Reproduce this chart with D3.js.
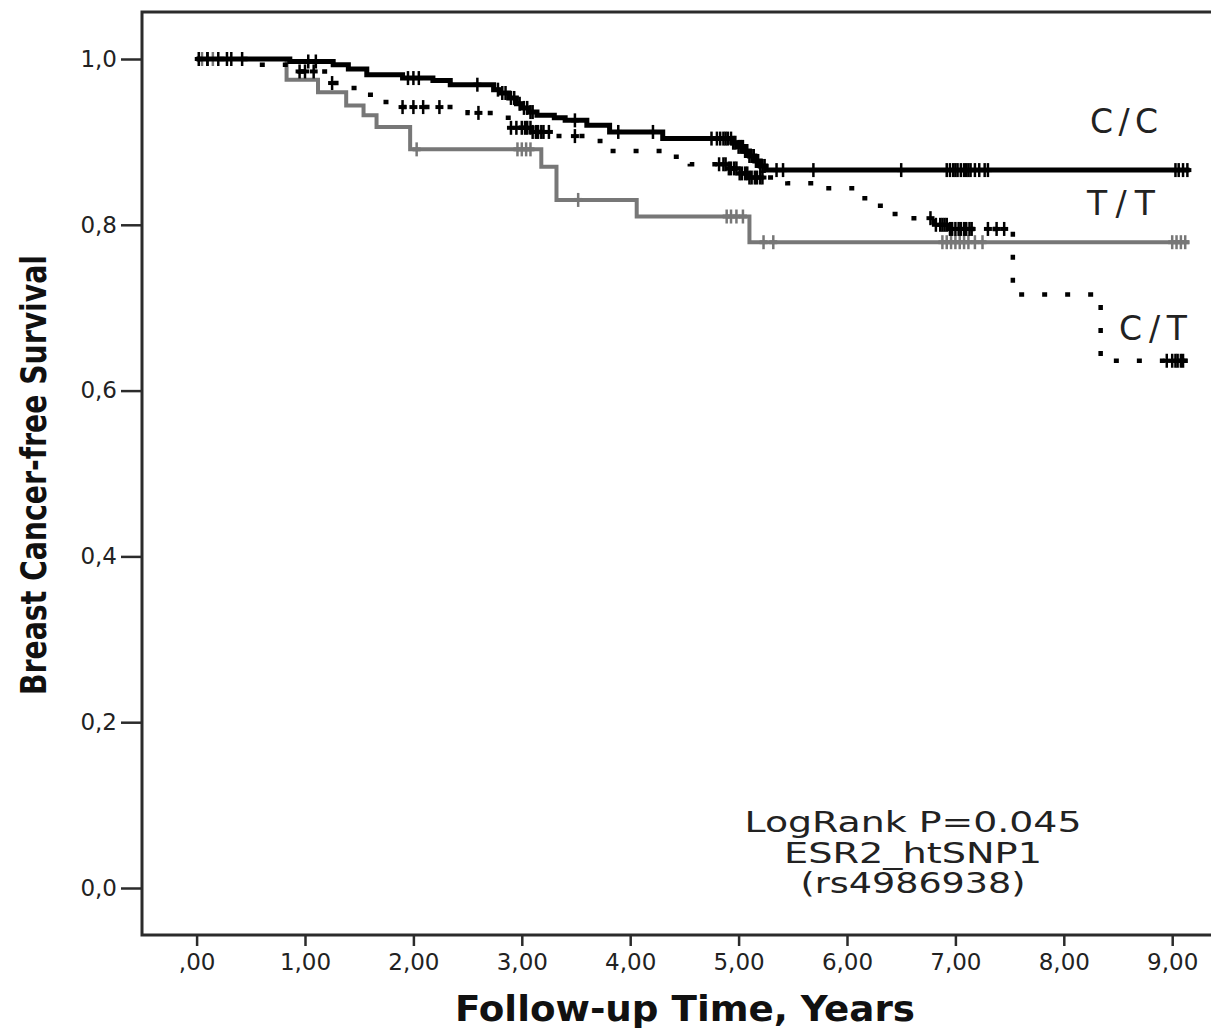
<!DOCTYPE html>
<html>
<head>
<meta charset="utf-8">
<script src="https://cdn.jsdelivr.net/npm/d3@7"></script>
<style>
    body { margin: 0; background: #fff; }
    svg { display: block; }
</style>
</head>
<body>
<svg id="chart" width="1211" height="1028"></svg>
<script>
// Kaplan-Meier steps, [time in years, survival after the event]
var ccSteps = [[0, 1.0], [0.86, 0.997], [1.26, 0.993], [1.4, 0.988], [1.57, 0.981], [1.9, 0.977],
    [2.18, 0.974], [2.34, 0.969], [2.74, 0.963], [2.8, 0.959], [2.88, 0.953], [2.95, 0.946],
    [3.0, 0.941], [3.06, 0.936], [3.14, 0.932], [3.3, 0.929], [3.4, 0.926], [3.6, 0.920],
    [3.81, 0.912], [4.3, 0.904], [4.95, 0.899], [5.0, 0.894], [5.05, 0.889], [5.1, 0.883],
    [5.15, 0.877], [5.2, 0.871], [5.25, 0.866]];
var ttSteps = [[0, 1.0], [0.83, 0.975], [1.12, 0.96], [1.38, 0.944], [1.54, 0.932], [1.66, 0.918],
    [1.97, 0.891], [3.18, 0.870], [3.32, 0.83], [4.06, 0.81], [5.1, 0.779]];
var ctSteps = [[0, 1.0], [0.5, 0.993], [0.95, 0.985], [1.25, 0.971], [1.45, 0.965], [1.58, 0.957],
    [1.7, 0.948], [1.8, 0.942], [2.5, 0.935], [2.75, 0.929], [2.9, 0.917], [3.1, 0.912],
    [3.3, 0.907], [3.72, 0.901], [3.8, 0.889], [4.4, 0.882], [4.55, 0.873], [4.9, 0.868],
    [5.0, 0.862], [5.1, 0.857], [5.45, 0.850], [5.7, 0.844], [6.1, 0.832], [6.22, 0.823],
    [6.35, 0.813], [6.5, 0.808], [6.8, 0.80], [6.95, 0.795], [7.53, 0.716], [8.34, 0.636]];

// censored cases (times)
var ccCensored = [0.02, 0.1, 0.28, 0.32, 0.42, 1.03, 1.1, 1.95, 2.0, 2.05, 2.59, 2.78, 2.82,
    2.85, 2.9, 2.93, 2.98, 3.02, 3.05, 3.08, 3.1, 3.49, 3.89, 4.21, 4.75, 4.8, 4.83, 4.86, 4.88,
    4.9, 4.93, 4.95, 4.97, 5.0, 5.02, 5.04, 5.06, 5.08, 5.1, 5.12, 5.14, 5.16, 5.18, 5.2, 5.22,
    5.24, 5.35, 5.41, 5.69, 6.5, 6.92, 6.95, 6.98, 7.0, 7.02, 7.05, 7.08, 7.1, 7.12, 7.14, 7.18,
    7.22, 7.27, 7.3, 9.03, 9.06, 9.1, 9.14];
var ttCensored = [0.05, 0.15, 2.03, 2.96, 3.0, 3.04, 3.08, 3.52, 4.89, 4.93, 4.98, 5.04, 5.23,
    5.32, 6.88, 6.92, 6.96, 7.0, 7.04, 7.08, 7.12, 7.18, 7.25, 9.0, 9.04, 9.08, 9.12];
var ctCensored = [0.1, 0.2, 0.95, 1.0, 1.08, 1.25, 1.9, 2.0, 2.09, 2.24, 2.6, 2.9, 2.95, 3.0,
    3.03, 3.05, 3.08, 3.1, 3.13, 3.15, 3.18, 3.2, 3.25, 3.49, 4.82, 4.86, 4.88, 4.91, 4.93, 4.96,
    4.98, 5.01, 5.03, 5.06, 5.08, 5.1, 5.12, 5.15, 5.17, 5.2, 5.22, 6.77, 6.82, 6.86, 6.88, 6.9,
    6.92, 6.95, 6.97, 7.0, 7.03, 7.05, 7.08, 7.1, 7.13, 7.15, 7.3, 7.38, 7.45, 8.95, 9.0, 9.03,
    9.05, 9.08, 9.1];

var followUpEnd = 9.16;
var groupNames = ["C/C", "T/T", "C/T"];
var xTicks = [0, 1, 2, 3, 4, 5, 6, 7, 8, 9];
var yTicks = [0, 0.2, 0.4, 0.6, 0.8, 1.0];
var noteLines = ["LogRank P=0.045", "ESR2_htSNP1", "(rs4986938)"];

var svg = d3.select("#chart");

var x = d3.scaleLinear().domain([0, 9]).range([196.6, 1172.2]);
var y = d3.scaleLinear().domain([0, 1]).range([888, 59]);

var tickFont = "'DejaVu Sans', Verdana, sans-serif";
var titleFont = "'Liberation Sans Narrow', 'DejaVu Sans Condensed', 'Arial Narrow', sans-serif";

// plot frame (right side runs off the picture)
svg.append("rect")
    .attr("x", 142)
    .attr("y", 12)
    .attr("width", 1200)
    .attr("height", 923)
    .attr("fill", "none")
    .attr("stroke", "#2b2b2b")
    .attr("stroke-width", 3);

var yAxis = d3.axisLeft(y)
    .tickValues(yTicks)
    .tickSize(21)
    .tickPadding(4)
    .tickFormat(d => d3.format(".1f")(d).replace(".", ","));

var xAxis = d3.axisBottom(x)
    .tickValues(xTicks)
    .tickSize(11)
    .tickPadding(8)
    .tickFormat(d => d === 0 ? ",00" : d3.format(".2f")(d).replace(".", ","));

svg.append("g")
    .attr("transform", "translate(142,0)")
    .call(yAxis)
    .call(g => g.select(".domain").remove())
    .call(g => g.selectAll(".tick line").attr("stroke", "#2b2b2b").attr("stroke-width", 2.5))
    .call(g => g.selectAll(".tick text")
        .attr("font-family", tickFont)
        .attr("font-size", 23)
        .attr("fill", "#222"));

svg.append("g")
    .attr("transform", "translate(0,935)")
    .call(xAxis)
    .call(g => g.select(".domain").remove())
    .call(g => g.selectAll(".tick line").attr("stroke", "#2b2b2b").attr("stroke-width", 2.5))
    .call(g => g.selectAll(".tick text")
        .attr("font-family", tickFont)
        .attr("font-size", 23)
        .attr("fill", "#222"));

// axis titles
svg.append("text")
    .attr("transform", "translate(46,475) rotate(-90)")
    .attr("text-anchor", "middle")
    .attr("font-family", titleFont)
    .attr("font-weight", "bold")
    .attr("font-size", 36)
    .attr("textLength", 440)
    .attr("lengthAdjust", "spacingAndGlyphs")
    .attr("fill", "#111")
    .text("Breast Cancer-free Survival");

svg.append("text")
    .attr("x", 685)
    .attr("y", 1021)
    .attr("text-anchor", "middle")
    .attr("font-family", titleFont)
    .attr("font-weight", "bold")
    .attr("font-size", 36)
    .attr("textLength", 460)
    .attr("lengthAdjust", "spacingAndGlyphs")
    .attr("fill", "#111")
    .text("Follow-up Time, Years");

function survivalAt(steps, t)
{
    var i = d3.bisector(d => d[0]).right(steps, t) - 1;
    return steps[Math.max(i, 0)][1];
}

function drawCurve(steps, censored, style)
{
    var pts = steps.concat([[followUpEnd, steps[steps.length - 1][1]]]);
    var line = d3.line()
        .curve(d3.curveStepAfter)
        .x(d => x(d[0]))
        .y(d => y(d[1]));

    svg.append("path")
        .datum(pts)
        .attr("d", line)
        .attr("fill", "none")
        .attr("stroke", style.color)
        .attr("stroke-width", style.width)
        .attr("stroke-dasharray", style.dash);

    svg.append("g")
        .selectAll("line")
        .data(censored)
        .enter().append("line")
        .attr("x1", d => x(d))
        .attr("x2", d => x(d))
        .attr("y1", d => y(survivalAt(steps, d)) - 7)
        .attr("y2", d => y(survivalAt(steps, d)) + 7)
        .attr("stroke", style.color)
        .attr("stroke-width", 2.5);

    // short horizontal bar, gives the "+" look
    svg.append("g")
        .selectAll("line")
        .data(censored)
        .enter().append("line")
        .attr("x1", d => x(d) - 4)
        .attr("x2", d => x(d) + 4)
        .attr("y1", d => y(survivalAt(steps, d)))
        .attr("y2", d => y(survivalAt(steps, d)))
        .attr("stroke", style.color)
        .attr("stroke-width", 4);
}

drawCurve(ttSteps, ttCensored, { color: "#777", width: 4, dash: null });
drawCurve(ctSteps, ctCensored, { color: "#000", width: 4.5, dash: "5,18" });
drawCurve(ccSteps, ccCensored, { color: "#000", width: 5, dash: null });

// group labels
var labelPos = [[1124, 133], [1121, 215], [1153, 340]];
svg.append("g")
    .selectAll("text")
    .data(groupNames)
    .enter().append("text")
    .attr("x", (d, i) => labelPos[i][0])
    .attr("y", (d, i) => labelPos[i][1])
    .attr("text-anchor", "middle")
    .attr("font-family", tickFont)
    .attr("font-size", 33)
    .attr("textLength", 68)
    .attr("lengthAdjust", "spacing")
    .attr("fill", "#222")
    .text(d => d);

// test note
var noteWidths = [337, 258, 225];
svg.append("g")
    .selectAll("text")
    .data(noteLines)
    .enter().append("text")
    .attr("x", 913)
    .attr("y", (d, i) => 832 + i * 30.5)
    .attr("text-anchor", "middle")
    .attr("font-family", tickFont)
    .attr("font-size", 28)
    .attr("textLength", (d, i) => noteWidths[i])
    .attr("lengthAdjust", "spacingAndGlyphs")
    .attr("fill", "#222")
    .text(d => d);
</script>
</body>
</html>
